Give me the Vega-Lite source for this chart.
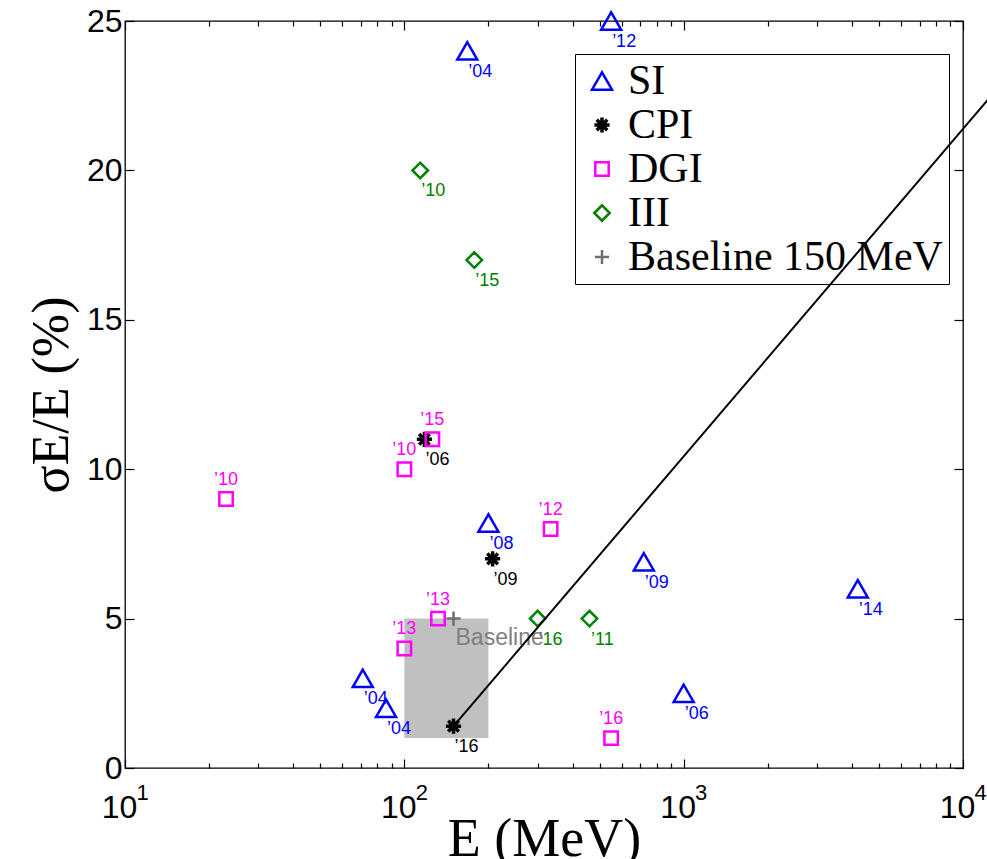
{
  "$schema": "https://vega.github.io/schema/vega-lite/v6.json",
  "width": 838,
  "height": 747,
  "autosize": {"type": "none"},
  "padding": {"left": 125, "top": 21, "right": 24, "bottom": 91},
  "background": "white",
  "config": {
    "view": {"stroke": "#000", "strokeWidth": 1.3},
    "axis": {"domain": false, "grid": false, "tickColor": "#000", "tickWidth": 1.2, "labelColor": "#000", "titleColor": "#000"},
    "text": {"font": "Liberation Sans", "fontSize": 18, "align": "center", "baseline": "middle"}
  },
  "datasets": {
    "pts": [
      {"E": 168, "s": 24, "type": "SI", "yr": "’04"},
      {"E": 550, "s": 25, "type": "SI", "yr": "’12"},
      {"E": 200, "s": 8.2, "type": "SI", "yr": "’08"},
      {"E": 720, "s": 6.9, "type": "SI", "yr": "’09"},
      {"E": 4200, "s": 6, "type": "SI", "yr": "’14"},
      {"E": 1000, "s": 2.5, "type": "SI", "yr": "’06"},
      {"E": 71, "s": 3, "type": "SI", "yr": "’04"},
      {"E": 86, "s": 2, "type": "SI", "yr": "’04"},
      {"E": 118, "s": 11, "type": "CPI", "yr": "’06"},
      {"E": 207, "s": 7, "type": "CPI", "yr": "’09"},
      {"E": 150, "s": 1.4, "type": "CPI", "yr": "’16"},
      {"E": 23, "s": 9, "type": "DGI", "yr": "’10"},
      {"E": 100, "s": 10, "type": "DGI", "yr": "’10"},
      {"E": 126, "s": 11, "type": "DGI", "yr": "’15"},
      {"E": 334, "s": 8, "type": "DGI", "yr": "’12"},
      {"E": 132, "s": 5, "type": "DGI", "yr": "’13"},
      {"E": 100, "s": 4, "type": "DGI", "yr": "’13"},
      {"E": 550, "s": 1, "type": "DGI", "yr": "’16"},
      {"E": 114, "s": 20, "type": "III", "yr": "’10"},
      {"E": 178, "s": 17, "type": "III", "yr": "’15"},
      {"E": 300, "s": 5, "type": "III", "yr": "’16"},
      {"E": 460, "s": 5, "type": "III", "yr": "’11"},
      {"E": 150, "s": 5, "type": "Baseline 150 MeV", "yr": "Baseline"}
    ],
    "box": [{"E1": 100, "E2": 200, "s1": 1, "s2": 5}],
    "fit": [{"E": 150, "s": 1.4}, {"E": 12290, "s": 22.37}]
  },
  "resolve": {"axis": {"x": "independent", "y": "independent"}},
  "layer": [
    {
      "data": {"name": "box"},
      "mark": {"type": "rect", "color": "#c0c0c0"},
      "encoding": {
        "x": {"field": "E1", "type": "quantitative", "scale": {"type": "log", "domain": [10, 10000], "nice": false},
          "axis": {"orient": "bottom", "values": [10, 100, 1000, 10000], "tickSize": -9,
            "labelExpr": "'10'", "labelOffset": -6,
            "labelFont": "Liberation Sans", "labelFontSize": 32, "labelPadding": 33, "labelFlush": false,
            "title": "E (MeV)", "titleFont": "Liberation Serif", "titleFontSize": 54, "titleFontWeight": "normal",
            "titleY": 87, "titleBaseline": "alphabetic"}},
        "x2": {"field": "E2"},
        "y": {"field": "s1", "type": "quantitative", "scale": {"domain": [0, 25], "nice": false},
          "axis": {"orient": "left", "values": [0, 5, 10, 15, 20, 25], "tickSize": -9,
            "labelFont": "Liberation Sans", "labelFontSize": 32, "labelPadding": 12, "labelFlush": false,
            "title": "σE/E (%)", "titleFont": "Liberation Serif", "titleFontSize": 52, "titleFontWeight": "normal", "titlePadding": 8}},
        "y2": {"field": "s2"}
      }
    },
    {
      "data": {"name": "pts"},
      "mark": {"type": "point", "filled": false, "opacity": 1},
      "encoding": {
        "x": {"field": "E", "type": "quantitative",
          "axis": {"orient": "bottom", "values": [20, 30, 40, 50, 60, 70, 80, 90, 200, 300, 400, 500, 600, 700, 800, 900, 2000, 3000, 4000, 5000, 6000, 7000, 8000, 9000], "tickSize": -5, "labels": false, "title": null}},
        "y": {"field": "s", "type": "quantitative",
          "axis": {"orient": "right", "values": [0, 5, 10, 15, 20, 25], "tickSize": -9, "labels": false, "title": null}},
        "color": {"field": "type", "type": "nominal",
          "scale": {"domain": ["SI", "CPI", "DGI", "III", "Baseline 150 MeV"], "range": ["#0000ff", "#000000", "#ff00ff", "#008000", "#707070"]},
          "legend": {"title": null, "orient": "none", "legendX": 450, "legendY": 33, "padding": 6, "symbolOffset": 0, "labelOffset": 5,
            "strokeColor": "#000", "fillColor": null, "labelFont": "Liberation Serif", "labelFontSize": 42, "labelColor": "#000", "labelLimit": 400,
            "symbolSize": 280, "symbolStrokeWidth": 2.5, "rowPadding": 2}},
        "shape": {"field": "type", "type": "nominal",
          "scale": {"domain": ["SI", "CPI", "DGI", "III", "Baseline 150 MeV"],
            "range": ["triangle-up", "M-1,0L1,0M0,-1L0,1M-0.7,-0.7L0.7,0.7M-0.7,0.7L0.7,-0.7", "square", "diamond", "M-1,0L1,0M0,-1L0,1"]}},
        "size": {"field": "type", "type": "nominal", "legend": null,
          "scale": {"type": "ordinal", "domain": ["SI", "CPI", "DGI", "III", "Baseline 150 MeV"], "range": [400, 230, 180, 240, 200]}},
        "strokeWidth": {"field": "type", "type": "nominal", "legend": null,
          "scale": {"type": "ordinal", "domain": ["SI", "CPI", "DGI", "III", "Baseline 150 MeV"], "range": [2.5, 3.5, 2.5, 2.5, 2.5]}}
      }
    },
    {
      "data": {"name": "pts"},
      "transform": [{"filter": "datum.type == 'SI'"}],
      "mark": {"type": "text", "dx": 13, "dy": 21, "color": "#0000ff"},
      "encoding": {
        "x": {"field": "E", "type": "quantitative",
          "axis": {"orient": "top", "values": [10, 100, 1000, 10000], "tickSize": -9, "labels": false, "title": null}},
        "y": {"field": "s", "type": "quantitative", "axis": null},
        "text": {"field": "yr"}
      }
    },
    {
      "data": {"name": "pts"},
      "transform": [{"filter": "datum.type == 'CPI'"}],
      "mark": {"type": "text", "dx": 13, "dy": 21, "color": "#000000"},
      "encoding": {
        "x": {"field": "E", "type": "quantitative", "axis": null},
        "y": {"field": "s", "type": "quantitative", "axis": null},
        "text": {"field": "yr"}
      }
    },
    {
      "data": {"name": "pts"},
      "transform": [{"filter": "datum.type == 'III'"}],
      "mark": {"type": "text", "dx": 13, "dy": 21, "color": "#008000"},
      "encoding": {
        "x": {"field": "E", "type": "quantitative", "axis": null},
        "y": {"field": "s", "type": "quantitative", "axis": null},
        "text": {"field": "yr"}
      }
    },
    {
      "data": {"name": "pts"},
      "transform": [{"filter": "datum.type == 'DGI'"}],
      "mark": {"type": "text", "dx": 0, "dy": -19, "color": "#ff00ff"},
      "encoding": {
        "x": {"field": "E", "type": "quantitative",
          "axis": {"orient": "top", "values": [20, 30, 40, 50, 60, 70, 80, 90, 200, 300, 400, 500, 600, 700, 800, 900, 2000, 3000, 4000, 5000, 6000, 7000, 8000, 9000], "tickSize": -5, "labels": false, "title": null}},
        "y": {"field": "s", "type": "quantitative", "axis": null},
        "text": {"field": "yr"}
      }
    },
    {
      "data": {"name": "pts"},
      "transform": [{"filter": "datum.type == 'Baseline 150 MeV'"}],
      "mark": {"type": "text", "fontSize": 23, "dx": 2, "dy": 19, "align": "left", "color": "#808080"},
      "encoding": {
        "x": {"field": "E", "type": "quantitative",
          "axis": {"orient": "bottom", "values": [10, 100, 1000, 10000], "ticks": false, "tickSize": 0,
            "labelExpr": "format(log(datum.value) / LN10, 'd')", "labelOffset": 17,
            "labelFont": "Liberation Sans", "labelFontSize": 22, "labelPadding": 14, "labelFlush": false, "title": null}},
        "y": {"field": "s", "type": "quantitative", "axis": null},
        "text": {"field": "yr"}
      }
    },
    {
      "data": {"name": "fit"},
      "mark": {"type": "line", "color": "#000", "strokeWidth": 2, "clip": false},
      "encoding": {
        "x": {"field": "E", "type": "quantitative", "axis": null},
        "y": {"field": "s", "type": "quantitative", "axis": null}
      }
    }
  ]
}
